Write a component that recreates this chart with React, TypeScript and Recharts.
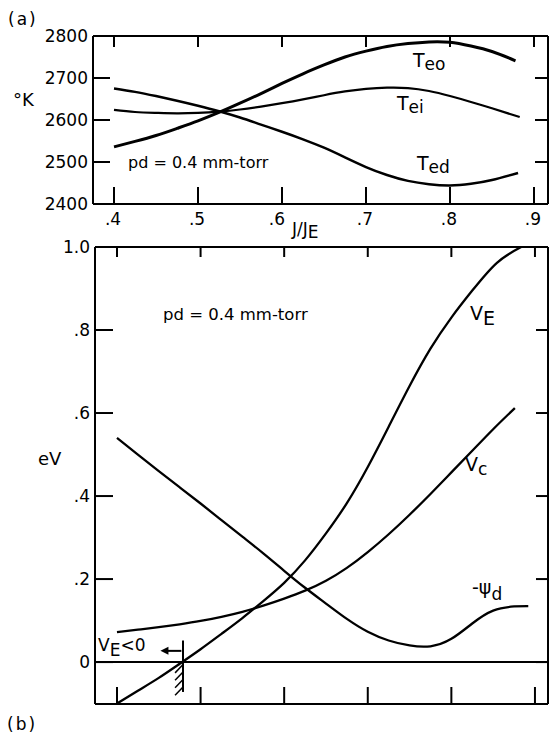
import React from 'react';
import { LineChart, Line, XAxis, YAxis, ReferenceLine, ReferenceDot } from 'recharts';

// ---------- tick values / labels ----------
const jTicks = [0.4, 0.5, 0.6, 0.7, 0.8, 0.9];
const jTickLabels = ['.4', '.5', '.6', '.7', '.8', '.9'];
const tTicks = [2400, 2500, 2600, 2700, 2800];
const tTickLabels = ['2400', '2500', '2600', '2700', '2800'];
const vTicks = [0, 0.2, 0.4, 0.6, 0.8, 1.0];
const vTickLabels = ['0', '.2', '.4', '.6', '.8', '1.0'];

// ---------- panel (a): temperatures (°K) ----------
const teoJ = [0.4, 0.425, 0.45, 0.475, 0.5, 0.525, 0.55, 0.575, 0.6, 0.625, 0.65, 0.675, 0.7, 0.725, 0.75, 0.775, 0.8, 0.825, 0.85, 0.878];
const teoT = [2536, 2549, 2563, 2580, 2598, 2618, 2640, 2663, 2687, 2710, 2731, 2750, 2764, 2775, 2782, 2786, 2785, 2776, 2763, 2741];

const teiJ = [0.4, 0.425, 0.45, 0.475, 0.5, 0.525, 0.55, 0.575, 0.6, 0.625, 0.65, 0.675, 0.7, 0.725, 0.75, 0.775, 0.8, 0.825, 0.85, 0.883];
const teiT = [2624, 2619, 2617, 2616, 2617, 2620, 2625, 2632, 2640, 2649, 2659, 2668, 2674, 2677, 2676, 2669, 2657, 2643, 2628, 2607];

const tedJ = [0.4, 0.425, 0.45, 0.475, 0.5, 0.525, 0.55, 0.575, 0.6, 0.625, 0.65, 0.675, 0.7, 0.725, 0.75, 0.775, 0.8, 0.825, 0.85, 0.881];
const tedT = [2675, 2667, 2657, 2646, 2634, 2621, 2606, 2589, 2572, 2554, 2534, 2511, 2488, 2469, 2455, 2447, 2444, 2448, 2457, 2474];

// ---------- panel (b): potentials (eV) ----------
const veJ = [0.4, 0.425, 0.45, 0.475, 0.5, 0.525, 0.55, 0.575, 0.6, 0.625, 0.65, 0.675, 0.7, 0.725, 0.75, 0.775, 0.8, 0.825, 0.8545, 0.8835];
const veV = [-0.1, -0.069, -0.038, -0.004, 0.031, 0.068, 0.106, 0.147, 0.191, 0.245, 0.31, 0.383, 0.47, 0.567, 0.665, 0.755, 0.83, 0.895, 0.962, 1.0];

const vcJ = [0.4, 0.425, 0.45, 0.475, 0.5, 0.525, 0.55, 0.575, 0.6, 0.625, 0.65, 0.675, 0.7, 0.725, 0.75, 0.775, 0.8, 0.825, 0.85, 0.876];
const vcV = [0.072, 0.078, 0.084, 0.091, 0.099, 0.109, 0.121, 0.136, 0.153, 0.172, 0.196, 0.227, 0.265, 0.308, 0.355, 0.405, 0.457, 0.509, 0.561, 0.612];

const psiJ = [0.4, 0.425, 0.45, 0.475, 0.5, 0.525, 0.55, 0.575, 0.6, 0.625, 0.65, 0.675, 0.7, 0.725, 0.75, 0.775, 0.8, 0.825, 0.85, 0.875, 0.892];
const psiV = [0.54, 0.5, 0.46, 0.421, 0.382, 0.342, 0.302, 0.262, 0.22, 0.179, 0.141, 0.104, 0.073, 0.052, 0.04, 0.038, 0.056, 0.093, 0.124, 0.134, 0.135];

// V_E < 0 marker (data coordinates)
const markJ = 0.479;
const markTop = 0.052;
const markBottom = -0.072;
const hatchV = [-0.006, -0.024, -0.042, -0.06];
const arrowTipJ = 0.452;
const arrowV = 0.027;

const zip = (xs: number[], ys: number[]) => xs.map((j, i) => ({ j, v: ys[i] }));
const teo = zip(teoJ, teoT);
const tei = zip(teiJ, teiT);
const ted = zip(tedJ, tedT);
const ve = zip(veJ, veV);
const vc = zip(vcJ, vcV);
const psi = zip(psiJ, psiV);

const FONT = "'DejaVu Sans', 'Liberation Sans', sans-serif";
const INK = '#000';
const axisStyle = { stroke: INK, strokeWidth: 2 };

type Side = 'top' | 'bottom' | 'left' | 'right';
const tickFactory =
  (side: Side, len: number, values?: number[], labels?: string[], shift?: Record<string, number>) =>
  (p: any) => {
    const { x, y, payload } = p;
    const val = payload?.value;
    let x2 = x;
    let y2 = y;
    if (side === 'bottom') y2 = y - len;
    if (side === 'top') y2 = y + len;
    if (side === 'left') x2 = x + len;
    if (side === 'right') x2 = x - len;
    const idx = values ? values.findIndex((v) => Math.abs(v - val) < 1e-9) : -1;
    const label = idx >= 0 && labels ? labels[idx] : null;
    return (
      <g>
        <line x1={x} y1={y} x2={x2} y2={y2} stroke={INK} strokeWidth={2} />
        {label && side === 'bottom' && (
          <text x={x - 1 + (shift?.[label] ?? 0)} y={y + 21} textAnchor="middle" fontFamily={FONT} fontSize={17} fill={INK}>
            {label}
          </text>
        )}
        {label && side === 'left' && (
          <text x={x - 5} y={y} dy="0.36em" textAnchor="end" fontFamily={FONT} fontSize={17} fill={INK}>
            {label}
          </text>
        )}
      </g>
    );
  };

const TriangleLeft = (p: any) => {
  const { cx, cy } = p;
  return <polygon points={`${cx},${cy} ${cx + 8},${cy - 4} ${cx + 8},${cy + 4}`} fill={INK} />;
};

const textStyle = { fontFamily: FONT, fill: INK } as const;
const CURVE = 'natural' as const;

export default function App() {
  return (
    <div style={{ position: 'absolute', left: 0, top: 0, width: 551, height: 737, background: '#fff', overflow: 'hidden' }}>
      {/* panel (a) */}
      <div style={{ position: 'absolute', left: 0, top: 0 }}>
        <LineChart width={551} height={240} margin={{ top: 0, right: 0, bottom: 0, left: 0 }}>
          <XAxis xAxisId="b" orientation="bottom" type="number" dataKey="j" domain={[0.375, 0.9167]} allowDataOverflow ticks={jTicks} interval={0} height={36} tickSize={0} tickMargin={0} axisLine={axisStyle} tickLine={false} tick={tickFactory('bottom', 17, jTicks, jTickLabels, { '.6': -4 })} />
          <XAxis xAxisId="t" orientation="top" type="number" dataKey="j" domain={[0.375, 0.9167]} allowDataOverflow ticks={jTicks} interval={0} height={36} tickSize={0} tickMargin={0} axisLine={axisStyle} tickLine={false} tick={tickFactory('top', 11)} />
          <YAxis yAxisId="l" orientation="left" type="number" domain={[2400, 2800]} allowDataOverflow ticks={tTicks} interval={0} width={93} tickSize={0} tickMargin={0} axisLine={axisStyle} tickLine={false} tick={tickFactory('left', 17, tTicks, tTickLabels)} />
          <YAxis yAxisId="r" orientation="right" type="number" domain={[2400, 2800]} allowDataOverflow ticks={tTicks} interval={0} width={3} tickSize={0} tickMargin={0} axisLine={axisStyle} tickLine={false} tick={tickFactory('right', 13)} />
          <Line xAxisId="b" yAxisId="l" data={teo} dataKey="v" type={CURVE} stroke={INK} strokeWidth={3} dot={false} isAnimationActive={false} />
          <Line xAxisId="b" yAxisId="l" data={tei} dataKey="v" type={CURVE} stroke={INK} strokeWidth={2.2} dot={false} isAnimationActive={false} />
          <Line xAxisId="b" yAxisId="l" data={ted} dataKey="v" type={CURVE} stroke={INK} strokeWidth={2.5} dot={false} isAnimationActive={false} />
        </LineChart>
      </div>

      {/* panel (b) */}
      <div style={{ position: 'absolute', left: 0, top: 220 }}>
        <LineChart width={551} height={517} margin={{ top: 0, right: 0, bottom: 0, left: 0 }}>
          <XAxis xAxisId="b" orientation="bottom" type="number" dataKey="j" domain={[0.3737, 0.9156]} allowDataOverflow ticks={jTicks} interval={0} height={33} tickSize={0} tickMargin={0} axisLine={axisStyle} tickLine={false} tick={tickFactory('bottom', 17)} />
          <XAxis xAxisId="t" orientation="top" type="number" dataKey="j" domain={[0.3737, 0.9156]} allowDataOverflow ticks={jTicks} interval={0} height={27} tickSize={0} tickMargin={0} axisLine={axisStyle} tickLine={false} tick={tickFactory('top', 10)} />
          <YAxis yAxisId="l" orientation="left" type="number" domain={[-0.101, 1.0]} allowDataOverflow ticks={vTicks} interval={0} width={95} tickSize={0} tickMargin={0} axisLine={axisStyle} tickLine={false} tick={tickFactory('left', 18, vTicks, vTickLabels)} />
          <YAxis yAxisId="r" orientation="right" type="number" domain={[-0.101, 1.0]} allowDataOverflow ticks={vTicks} interval={0} width={3} tickSize={0} tickMargin={0} axisLine={axisStyle} tickLine={false} tick={tickFactory('right', 12)} />
          <ReferenceLine xAxisId="b" yAxisId="l" y={0} stroke={INK} strokeWidth={2} />
          <Line xAxisId="b" yAxisId="l" data={ve} dataKey="v" type={CURVE} stroke={INK} strokeWidth={2.3} dot={false} isAnimationActive={false} />
          <Line xAxisId="b" yAxisId="l" data={vc} dataKey="v" type={CURVE} stroke={INK} strokeWidth={2.3} dot={false} isAnimationActive={false} />
          <Line xAxisId="b" yAxisId="l" data={psi} dataKey="v" type={CURVE} stroke={INK} strokeWidth={2.3} dot={false} isAnimationActive={false} />
          <ReferenceLine xAxisId="b" yAxisId="l" segment={[{ x: markJ, y: markTop }, { x: markJ, y: markBottom }]} stroke={INK} strokeWidth={2} />
          {hatchV.map((hv, i) => (
            <ReferenceLine key={i} xAxisId="b" yAxisId="l" segment={[{ x: markJ, y: hv }, { x: markJ - 0.0095, y: hv - 0.02 }]} stroke={INK} strokeWidth={1.5} />
          ))}
          <ReferenceLine xAxisId="b" yAxisId="l" segment={[{ x: arrowTipJ + 0.005, y: arrowV }, { x: markJ - 0.002, y: arrowV }]} stroke={INK} strokeWidth={2} />
          <ReferenceDot xAxisId="b" yAxisId="l" x={arrowTipJ} y={arrowV} r={4} shape={TriangleLeft} />
        </LineChart>
      </div>

      {/* text annotations */}
      <svg width={551} height={737} style={{ position: 'absolute', left: 0, top: 0, pointerEvents: 'none' }}>
        <text x={8} y={25} fontSize={17} letterSpacing={2} {...textStyle}>(a)</text>
        <text x={13} y={106} fontSize={18} {...textStyle}>°K</text>
        <text x={128} y={168} fontSize={16} {...textStyle}>pd = 0.4 mm-torr</text>
        <text x={413} y={67} fontSize={19} {...textStyle}>T<tspan fontSize={17} dy={3}>eo</tspan></text>
        <text x={397} y={110} fontSize={19} {...textStyle}>T<tspan fontSize={17} dy={3}>ei</tspan></text>
        <text x={417} y={170} fontSize={19} {...textStyle}>T<tspan fontSize={17} dy={3}>ed</tspan></text>
        <text x={292} y={235} fontSize={17} {...textStyle}>J/J<tspan dy={3}>E</tspan></text>

        <text x={163} y={320} fontSize={16.5} {...textStyle}>pd = 0.4 mm-torr</text>
        <text x={470} y={320} fontSize={19} {...textStyle}>V<tspan dy={5}>E</tspan></text>
        <text x={465} y={471} fontSize={19} {...textStyle}>V<tspan fontSize={17} dy={4}>c</tspan></text>
        <text x={472} y={594} fontSize={19} {...textStyle}>-ψ<tspan fontSize={17} dy={6}>d</tspan></text>
        <text x={38} y={465} fontSize={18} {...textStyle}>eV</text>
        <text x={98} y={651} fontSize={17} {...textStyle}>V<tspan dy={5}>E</tspan><tspan dy={-5}>&lt;0</tspan></text>
        <text x={7} y={730} fontSize={17} letterSpacing={2} {...textStyle}>(b)</text>
      </svg>
    </div>
  );
}
